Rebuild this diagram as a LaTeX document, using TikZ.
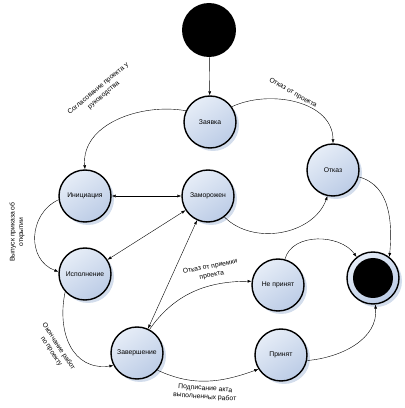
\documentclass[tikz,border=0pt]{standalone}
\usepackage{fontspec}
\setmainfont{Liberation Sans}
\usepackage{xcolor}
\definecolor{steel}{HTML}{BCCCE6}
\definecolor{steel-light}{HTML}{E6EDF7}
\definecolor{haze}{HTML}{D3DDEC}
\usetikzlibrary{arrows.meta,shadows,positioning}
\tikzset{
    >={Latex[length=4pt,width=3pt]},->,x=1pt,y=1pt,thin,
    state/.style ={circle, draw, line width=1.4pt, minimum size=52pt, inner sep=0pt,
        top color=steel-light, bottom color=steel, shading angle=35,
        drop shadow={shadow xshift=3pt, shadow yshift=-3pt, fill=haze, opacity=1}},
    el/.style = {inner sep=1pt, align=center}
}
\begin{document}
\begin{tikzpicture}[font=\fontsize{6.8}{8.5}\selectfont]
      \useasboundingbox (0,0) rectangle (405,408);
      \node[circle, fill=black, minimum size=54pt, inner sep=0pt] (start) at (209,378) {};
      \node[state] (zayavka) at (210,286) {Заявка};
      \node[state] (otkaz) at (333,238) {Отказ};
      \node[state] (init) at (85,212) {Инициация};
      \node[state] (frozen) at (208,212) {Заморожен};
      \node[state] (exec) at (85,134) {Исполнение};
      \node[state] (finish) at (137,55) {Завершение};
      \node[state] (rejected) at (278,123) {Не принят};
      \node[state] (accepted) at (281,53) {Принят};
      \node[state] (final) at (373,130) {};
      \node[circle, fill=black, minimum size=40pt, inner sep=0pt] (final-in) at (final) {};

      % labels
      \node[el, rotate=40] (l-agree) at (101,316) {Согласование проекта у\\руководства};
      \node[el, rotate=-30] (l-refuse) at (293,315) {Отказ от проекта};
      \node[el, rotate=90] (l-order) at (17,176) {Выпуск приказа об\\открытии};
      \node[el, rotate=-57] (l-done) at (55,59) {Окончание работ\\по проекту};
      \node[el, rotate=11] (l-reject) at (211,137) {Отказ от приемки\\проекта};
      \node[el, rotate=-4] (l-sign) at (205,15) {Подписание акта\\выполненных работ};

      \path (start) edge (zayavka);
      \path (zayavka.155) edge[out=170, in=95] (init.north);
      \path (zayavka.35) edge[out=25, in=90] (otkaz.north);
      \path[<->] (init) edge (frozen);
      \path[<->] (exec) edge (frozen);
      \path[<->] (finish) edge (frozen);
      \path (init.188) edge[out=205, in=160, looseness=1.2] (exec.175);
      \path (exec.222) edge[out=258, in=188, looseness=1.2] (finish.208);
      \path (finish.62) edge[out=55, in=180] (rejected.172);
      \path (finish.-40) edge[out=-25, in=200] (accepted.212);
      \path (accepted.-12) edge[out=5, in=-85] (final.-85);
      \path (rejected.75) edge[out=75, in=125] (final.128);
      \path (frozen.-52) edge[out=-45, in=250] (otkaz.258);
      \path (otkaz.-15) edge[out=-15, in=85] (final.52);
    \end{tikzpicture}
\end{document}
